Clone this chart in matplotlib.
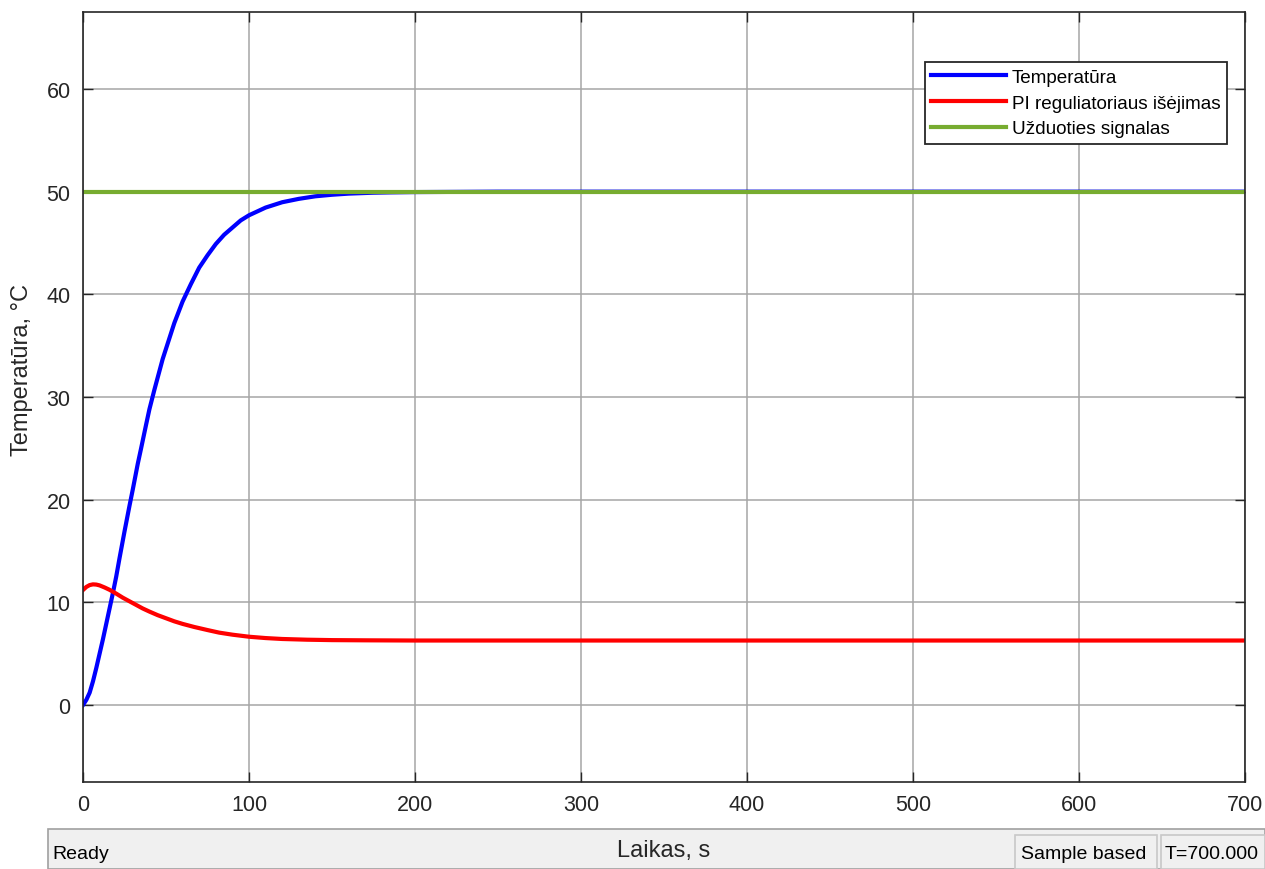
import numpy as np
import matplotlib
matplotlib.use('Agg')
from matplotlib import pyplot as plt
from matplotlib.patches import Rectangle

# values
t_temp = [0, 2, 4, 6, 8, 10, 12, 14, 16, 18, 20, 22, 25, 28, 30, 33, 35, 38, 40, 43, 45,
          48, 50, 55, 60, 65, 70, 75, 80, 85, 90, 95, 100, 110, 120, 130, 140, 150, 160,
          175, 185, 200, 250, 700]
temp = [0.0, 0.5, 1.2, 2.3, 3.6, 5.0, 6.4, 7.9, 9.4, 10.9, 12.5, 14.3, 16.9, 19.4, 21.0,
        23.5, 25.0, 27.3, 28.8, 30.7, 31.9, 33.7, 34.7, 37.2, 39.3, 41.0, 42.6, 43.8,
        44.9, 45.8, 46.5, 47.2, 47.7, 48.45, 48.97, 49.3, 49.55, 49.7, 49.81, 49.9,
        49.93, 49.96, 50.0, 50.0]

t_pi = [0, 2, 4, 6, 8, 10, 13, 16, 20, 24, 28, 32, 36, 40, 45, 50, 55, 60, 67, 75, 82,
        90, 100, 110, 120, 135, 150, 170, 200, 700]
pi_out = [11.2, 11.5, 11.68, 11.75, 11.73, 11.65, 11.45, 11.22, 10.85, 10.45, 10.1,
          9.75, 9.4, 9.1, 8.75, 8.45, 8.15, 7.9, 7.6, 7.3, 7.05, 6.85, 6.65, 6.52, 6.43,
          6.36, 6.32, 6.3, 6.28, 6.28]

t_ref = [0, 700]
ref = [50, 50]

labels = ['Temperatūra', 'PI reguliatoriaus išėjimas', 'Užduoties signalas']
colors = ['#0000ff', '#ff0000', '#77ac30']

plt.rcParams['font.family'] = ['Liberation Sans', 'DejaVu Sans']

W, H = 1265, 870
fig = plt.figure(figsize=(W / 100, H / 100), dpi=100)
ax = fig.add_axes([83 / W, 1 - 783 / H, (1245 - 83) / W, (783 - 13) / H])
ax.set_zorder(3)

ax.plot(t_temp, temp, color=colors[0], lw=3, label=labels[0], solid_joinstyle='round')
ax.plot(t_pi, pi_out, color=colors[1], lw=3, label=labels[1], solid_joinstyle='round')
ax.plot(t_ref, ref, color=colors[2], lw=3, label=labels[2])

ax.set_xlim(0, 700)
ax.set_ylim(-7.5, 67.5)
ax.set_xticks(np.arange(0, 701, 100))
ax.set_yticks(np.arange(0, 61, 10))
ax.grid(True, color='#a6a6a6', lw=1.1)
ax.set_axisbelow(True)
ax.tick_params(direction='in', length=7, width=1, top=True, right=True,
               labelsize=15.5, colors='#262626', pad=9)
for s in ax.spines.values():
    s.set_linewidth(1.2)
    s.set_color('#262626')

ax.set_ylabel('Temperatūra, °C', fontsize=17, color='#262626')
ax.yaxis.set_label_coords(-0.0525, 0.536)
ax.yaxis.label.set_va('center')

leg = ax.legend(loc='upper right', bbox_to_anchor=(1227 / W, 1 - 63 / H),
                bbox_transform=fig.transFigure, borderaxespad=0, fontsize=13.6,
                handlelength=3.95, handletextpad=0.3, borderpad=0.35, labelspacing=0.45,
                fancybox=False, framealpha=1, edgecolor='#262626')
leg.get_frame().set_linewidth(1.3)

# status bar of the scope window
fig.patches.append(Rectangle((48 / W, 0), 1 - 48 / W, (870 - 830) / H,
                             transform=fig.transFigure, facecolor='#f0f0f0',
                             edgecolor='#a0a0a0', lw=1.2, zorder=0))
fig.patches.append(Rectangle((1015 / W, 0), (1157 - 1015) / W, (870 - 836) / H,
                             transform=fig.transFigure, facecolor='#f0f0f0',
                             edgecolor='#c8c8c8', lw=1.2, zorder=1))
fig.patches.append(Rectangle((1161 / W, 0), (1265 - 1161) / W, (870 - 836) / H,
                             transform=fig.transFigure, facecolor='#f0f0f0',
                             edgecolor='#c8c8c8', lw=1.2, zorder=1))
fig.text(52 / W, 1 - 855 / H, 'Ready', fontsize=14, va='center', ha='left')
fig.text(1021 / W, 1 - 855 / H, 'Sample based', fontsize=14, va='center', ha='left')
fig.text(1165 / W, 1 - 855 / H, 'T=700.000', fontsize=14, va='center', ha='left')

ax.set_xlabel('Laikas, s', fontsize=17, color='#262626')
ax.xaxis.set_label_coords(0.5, (783 - 851) / 770)
ax.xaxis.label.set_va('center')

fig.savefig('out.png', dpi=100)
